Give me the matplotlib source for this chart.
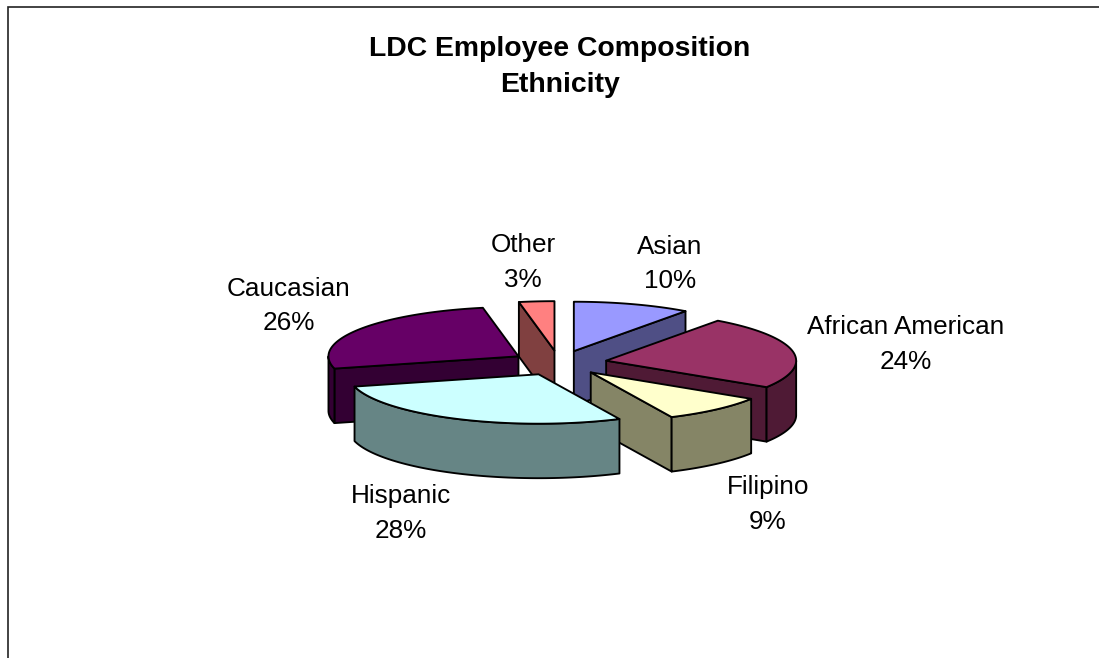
import numpy as np
import matplotlib
matplotlib.use("Agg")
import matplotlib.pyplot as plt
from matplotlib.patches import Polygon

plt.rcParams['font.family'] = ['Liberation Sans', 'DejaVu Sans']

labels = ['Asian', 'African American', 'Filipino', 'Hispanic', 'Caucasian', 'Other']
values = [10, 24, 9, 28, 26, 3]
top_colors = ['#9999FF', '#993366', '#FFFFCC', '#CCFFFF', '#660066', '#FF8080']
side_colors = ['#4F4F85', '#4F1A35', '#858566', '#668585', '#330033', '#804040']
label_pos = [(670, 264), (906, 344.5), (768, 504.5), (401, 513.5), (289, 306), (523, 262.5)]

# pie geometry in pixels
cx, cy = 559, 363
rx, squash = 190, 0.26
depth = 54.5
explode = 48
edge_w = 1.35


def project(angle, r):
    a = np.radians(angle)
    return r * np.sin(a), -r * squash * np.cos(a)


fig = plt.figure(figsize=(10.99, 6.58), dpi=100)
ax = fig.add_axes([0, 0, 1, 1])
ax.set_xlim(0, 1099)
ax.set_ylim(658, 0)
ax.axis('off')


def draw_wedge(start, end, top_color, side_color):
    mid = (start + end) / 2
    ox, oy = project(mid, explode)
    tx, ty = cx + ox, cy + oy

    def edge(angle):
        x, y = project(angle, rx)
        return tx + x, ty + y

    def add_face(points, color):
        ax.add_patch(Polygon(points, closed=True, facecolor=color, edgecolor='black',
                             linewidth=edge_w, joinstyle='round'))

    # cut faces that look towards the viewer
    if np.sin(np.radians(end)) > 0:
        x, y = edge(end)
        add_face([(tx, ty), (x, y), (x, y + depth), (tx, ty + depth)], side_color)
    if np.sin(np.radians(start)) < 0:
        x, y = edge(start)
        add_face([(tx, ty), (x, y), (x, y + depth), (tx, ty + depth)], side_color)

    # outer rim, only the front half of the ellipse shows
    lo, hi = max(start, 90), min(end, 270)
    if lo < hi:
        rim = [edge(a) for a in np.linspace(lo, hi, 80)]
        lower = [(x, y + depth) for x, y in rim[::-1]]
        add_face(rim + lower, side_color)

    arc = [edge(a) for a in np.linspace(start, end, 120)]
    add_face([(tx, ty)] + arc, top_color)


shares = np.array(values) / sum(values) * 360
starts = np.concatenate(([0], np.cumsum(shares)[:-1]))
ends = np.cumsum(shares)

# back slices first so the front ones cover them
for i in [5, 4, 0, 1, 2, 3]:
    draw_wedge(starts[i], ends[i], top_colors[i], side_colors[i])

for i in range(len(labels)):
    ax.text(label_pos[i][0], label_pos[i][1], '%s\n%d%%' % (labels[i], values[i]),
            ha='center', va='center', fontsize=18.8, color='black', linespacing=1.55)

ax.text(559.5, 67, 'LDC Employee Composition\nEthnicity', ha='center', va='center',
        fontsize=20.4, fontweight='bold', linespacing=1.48)

# chart frame, only top and left fall inside the image
ax.plot([7.5, 7.5, 1099], [658, 6.5, 6.5], color='#222222', linewidth=1.2,
        solid_joinstyle='miter')

fig.savefig('out.png', dpi=100)
